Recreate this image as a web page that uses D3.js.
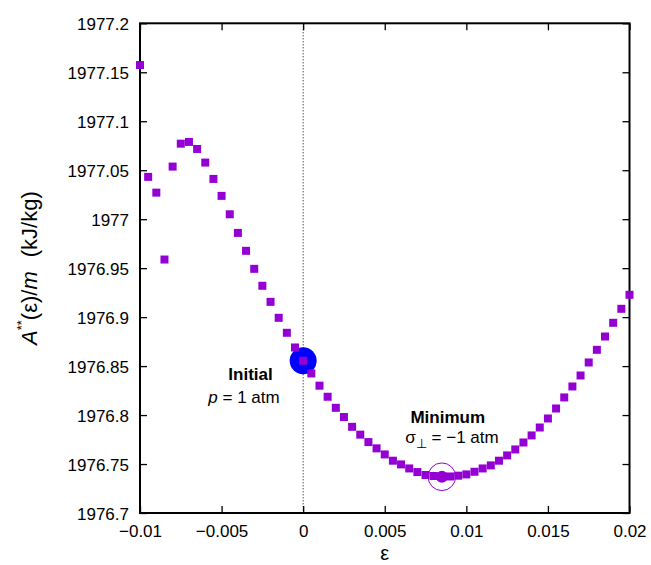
<!DOCTYPE html>
<html>
<head>
<meta charset="utf-8">
<script src="https://cdn.jsdelivr.net/npm/d3@7"></script>
<style>
  html, body { margin: 0; padding: 0; background: #fff; }
  svg { display: block; font-family: "Liberation Sans", Arial, sans-serif; }
</style>
</head>
<body>
<svg id="chart" width="651" height="565"></svg>
<script>
// Strain grid and free energy per unit mass (kJ/kg)
const strain = [
  -0.01, -0.0095, -0.009, -0.0085, -0.008, -0.0075, -0.007, -0.0065, -0.006, -0.0055,
  -0.005, -0.0045, -0.004, -0.0035, -0.003, -0.0025, -0.002, -0.0015, -0.001, -0.0005,
  0, 0.0005, 0.001, 0.0015, 0.002, 0.0025, 0.003, 0.0035, 0.004, 0.0045,
  0.005, 0.0055, 0.006, 0.0065, 0.007, 0.0075, 0.008, 0.0085, 0.009, 0.0095,
  0.01, 0.0105, 0.011, 0.0115, 0.012, 0.0125, 0.013, 0.0135, 0.014, 0.0145,
  0.015, 0.0155, 0.016, 0.0165, 0.017, 0.0175, 0.018, 0.0185, 0.019, 0.0195, 0.02
];
const energy = [
  1977.1574, 1977.0432, 1977.0271, 1976.9588, 1977.0537, 1977.0771, 1977.0789, 1977.0717, 1977.0578, 1977.0411,
  1977.0238, 1977.0050, 1976.9860, 1976.9677, 1976.9493, 1976.9320, 1976.9156, 1976.8993, 1976.8840, 1976.8690,
  1976.8554, 1976.8425, 1976.8300, 1976.8187, 1976.8074, 1976.7980, 1976.7880, 1976.7800, 1976.7724, 1976.7660,
  1976.7598, 1976.7534, 1976.7496, 1976.7455, 1976.7418, 1976.7388, 1976.7378, 1976.7370, 1976.7373, 1976.7381,
  1976.7394, 1976.7421, 1976.7455, 1976.7486, 1976.7534, 1976.7588, 1976.7649, 1976.7720, 1976.7792, 1976.7873,
  1976.7965, 1976.8067, 1976.8180, 1976.8292, 1976.8404, 1976.8537, 1976.8666, 1976.8802, 1976.8942, 1976.9085, 1976.9228
];

// Special states
const initialState = [0, 1976.8554];
const minimumState = [0.0085, 1976.7370];

// Axis ticks
const xTicks = [-0.01, -0.005, 0, 0.005, 0.01, 0.015, 0.02];
const xTickLabels = ["\u22120.01", "\u22120.005", "0", "0.005", "0.01", "0.015", "0.02"];
const yTicks = [1976.7, 1976.75, 1976.8, 1976.85, 1976.9, 1976.95, 1977, 1977.05, 1977.1, 1977.15, 1977.2];
const yTickLabels = ["1976.7", "1976.75", "1976.8", "1976.85", "1976.9", "1976.95", "1977", "1977.05", "1977.1", "1977.15", "1977.2"];

const purple = "#9400d3";
const svg = d3.select("#chart");
const pLeft = 140, pRight = 629.5, pTop = 23.3, pBottom = 513;

const x = d3.scaleLinear().domain([-0.01, 0.02]).range([pLeft, pRight]);
const y = d3.scaleLinear().domain([1976.7, 1977.2]).range([pBottom, pTop]);

// Dotted zero-strain line
svg.append("line")
  .attr("x1", x(0)).attr("x2", x(0))
  .attr("y1", pTop).attr("y2", pBottom)
  .attr("stroke", "#000").attr("stroke-width", 1)
  .attr("stroke-dasharray", "1,2");

// Axes with inward ticks on all four sides
const tickLen = 7;
const fmtX = d => xTickLabels[xTicks.indexOf(d)];
const fmtY = d => yTickLabels[yTicks.indexOf(d)];

const gBottom = svg.append("g").attr("transform", `translate(0,${pBottom})`)
  .call(d3.axisBottom(x).tickValues(xTicks).tickFormat(fmtX).tickSizeInner(-tickLen).tickSizeOuter(0).tickPadding(12));
const gTop = svg.append("g").attr("transform", `translate(0,${pTop})`)
  .call(d3.axisTop(x).tickValues(xTicks).tickFormat("").tickSizeInner(-tickLen).tickSizeOuter(0));
const gLeft = svg.append("g").attr("transform", `translate(${pLeft},0)`)
  .call(d3.axisLeft(y).tickValues(yTicks).tickFormat(fmtY).tickSizeInner(-tickLen).tickSizeOuter(0).tickPadding(11));
const gRight = svg.append("g").attr("transform", `translate(${pRight},0)`)
  .call(d3.axisRight(y).tickValues(yTicks).tickFormat("").tickSizeInner(-tickLen).tickSizeOuter(0));

[gBottom, gTop, gLeft, gRight].forEach(g => {
  g.select(".domain").remove();
  g.selectAll(".tick line").attr("stroke", "#000").attr("stroke-width", 1.3);
  g.selectAll(".tick text")
    .attr("font-family", "'Liberation Sans', Arial, sans-serif")
    .attr("font-size", 17).attr("fill", "#000");
});
gLeft.selectAll(".tick text").attr("dy", "0.36em");

// Plot frame
svg.append("rect")
  .attr("x", pLeft).attr("y", pTop)
  .attr("width", pRight - pLeft).attr("height", pBottom - pTop)
  .attr("fill", "none").attr("stroke", "#000").attr("stroke-width", 2);

// Initial state marker
svg.append("circle")
  .attr("cx", x(initialState[0])).attr("cy", y(initialState[1]))
  .attr("r", 13.5).attr("fill", "#0000ff");

// Energy samples
const sq = 8;
svg.append("g").selectAll("rect")
  .data(strain.map((s, i) => [s, energy[i]]))
  .join("rect")
  .attr("x", d => x(d[0]) - sq / 2)
  .attr("y", d => y(d[1]) - sq / 2)
  .attr("width", sq).attr("height", sq)
  .attr("fill", purple);

// Minimum marker
svg.append("circle")
  .attr("cx", x(minimumState[0])).attr("cy", y(minimumState[1]))
  .attr("r", 6).attr("fill", purple);
svg.append("circle")
  .attr("cx", x(minimumState[0])).attr("cy", y(minimumState[1]))
  .attr("r", 13.8).attr("fill", "none").attr("stroke", purple).attr("stroke-width", 1);

// Annotations
const ann = svg.append("g").attr("font-size", 17).attr("fill", "#000");
ann.append("text").attr("x", 250.5).attr("y", 380).attr("text-anchor", "middle")
  .attr("font-weight", "bold").text("Initial");
const pLab = ann.append("text").attr("x", 244).attr("y", 402.5).attr("text-anchor", "middle");
pLab.append("tspan").attr("font-style", "italic").text("p");
pLab.append("tspan").text(" = 1 atm");

ann.append("text").attr("x", 447.7).attr("y", 422.5).attr("text-anchor", "middle")
  .attr("font-weight", "bold").text("Minimum");
const sLab = ann.append("text").attr("x", 452).attr("y", 443.3).attr("text-anchor", "middle");
sLab.append("tspan").text("\u03c3");
sLab.append("tspan").attr("font-size", 13).attr("dy", 5).text("\u22a5");
sLab.append("tspan").attr("dy", -5).text(" = \u22121 atm");

// Axis titles
svg.append("text")
  .attr("x", (pLeft + pRight) / 2).attr("y", 560)
  .attr("text-anchor", "middle").attr("font-size", 20).text("\u03b5");

const yLab = svg.append("text")
  .attr("transform", `translate(37,${(pTop + pBottom) / 2}) rotate(-90)`)
  .attr("text-anchor", "middle").attr("font-size", 22);
yLab.append("tspan").attr("font-style", "italic").text("A");
yLab.append("tspan").attr("font-size", 13).attr("dy", -11).text("**");
yLab.append("tspan").attr("dy", 11).text("(\u03b5)/");
yLab.append("tspan").attr("font-style", "italic").text("m");
yLab.append("tspan").attr("dx", 14).text("(kJ/kg)");
</script>
</body>
</html>
